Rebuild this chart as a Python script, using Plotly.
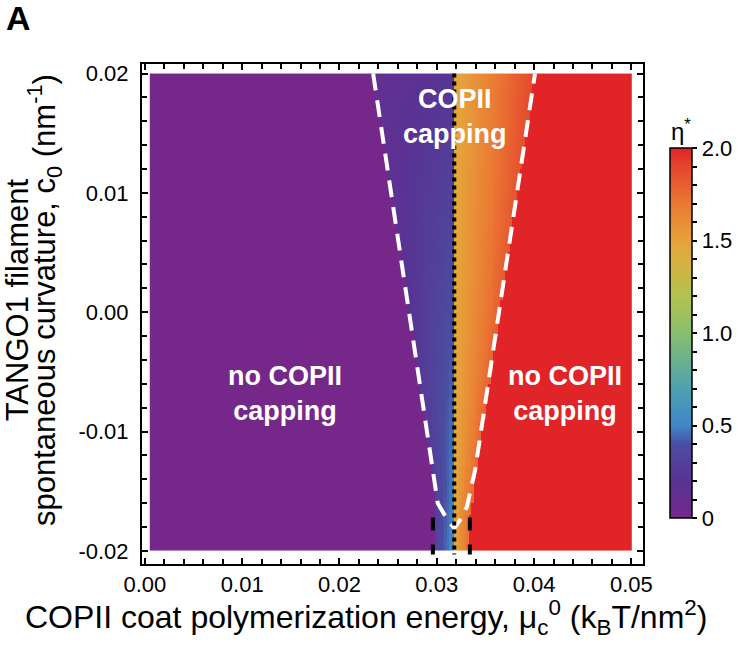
import numpy as np
import plotly.graph_objects as go

# ---------------- data ----------------
# heatmap grid (cell edges)
mu_edges = np.round(np.arange(0.0005, 0.05001, 0.00025), 6)
c0_edges = np.round(np.arange(-0.02, 0.02001, 0.001), 6)

# boundaries of the COPII-capping region (mu at given c0)
bound_c0 = [-0.02, -0.0172, -0.0147, 0.02]
bound_left_mu = [0.0298, 0.0298, 0.0298, 0.02346]
bound_right_mu = [0.0333, 0.0333, 0.03378, 0.0401]

# critical mu (black dotted line)
mu_crit = 0.0318

# eta* values read at the edges of the region
eta_c0 = [-0.02, 0.0, 0.02]
eta_left_edge = [0.30, 0.20, 0.14]
eta_left_crit = [0.56, 0.40, 0.22]
eta_right_crit = [1.47, 1.47, 1.47]
eta_right_edge = [1.74, 1.80, 1.90]
eta_below = 0.0
eta_above = 2.0

# white dashed boundary curve
wb_mu = [0.02346, 0.02953, 0.0301, 0.0311, 0.0318, 0.0324, 0.0331, 0.03395, 0.0401]
wb_c0 = [0.02, -0.0132, -0.0160, -0.0174, -0.0181, -0.0174, -0.0163, -0.0132, 0.02]

# black dashed bottom segments
bd_mu = [0.0296, 0.0334]
bd_c0 = [-0.0172, -0.0203]

x_ticks = [0.0, 0.01, 0.02, 0.03, 0.04, 0.05]
x_ticktext = ["0.00", "0.01", "0.02", "0.03", "0.04", "0.05"]
y_ticks = [-0.02, -0.01, 0.0, 0.01, 0.02]
y_ticktext = ["-0.02", "-0.01", "0.00", "0.01", "0.02"]
cb_ticks = [round(0.1 * i, 1) for i in range(21)]
cb_labels = {0.0: "0", 0.5: "0.5", 1.0: "1.0", 1.5: "1.5", 2.0: "2.0"}

# ---------------- build heatmap table ----------------
mu_c = (mu_edges[:-1] + mu_edges[1:]) / 2
c_c = (c0_edges[:-1] + c0_edges[1:]) / 2
z = np.zeros((len(c_c), len(mu_c)))
for i, c in enumerate(c_c):
    L = np.interp(c, bound_c0, bound_left_mu)
    R = np.interp(c, bound_c0, bound_right_mu)
    le = np.interp(c, eta_c0, eta_left_edge)
    lc = np.interp(c, eta_c0, eta_left_crit)
    rc = np.interp(c, eta_c0, eta_right_crit)
    re = np.interp(c, eta_c0, eta_right_edge)
    for j, m in enumerate(mu_c):
        if m < L:
            z[i, j] = eta_below
        elif m < mu_crit:
            z[i, j] = le + (lc - le) * (m - L) / max(mu_crit - L, 1e-9)
        elif m < R:
            z[i, j] = rc + (re - rc) * (m - mu_crit) / max(R - mu_crit, 1e-9)
        else:
            z[i, j] = eta_above

colorscale = [
    [0.0, "#76288A"],
    [0.1, "#593394"],
    [0.2, "#4A4EA2"],
    [0.25, "#3F87C8"],
    [0.35, "#4FA1B0"],
    [0.5, "#88BF6E"],
    [0.6, "#B3C24E"],
    [0.7, "#D8B040"],
    [0.75, "#E6A23A"],
    [0.85, "#EA7833"],
    [0.95, "#E4452D"],
    [1.0, "#E02428"],
]

FONT = "Liberation Sans, Arial, Helvetica, sans-serif"

FIG_W, FIG_H = 744, 651
# plot area in pixels: x 142..643, y 64..564
L_PX, R_PX, T_PX, B_PX = 142, 643, 64, 564
W_PX, H_PX = R_PX - L_PX, B_PX - T_PX


def px(xp):
    return (xp - L_PX) / W_PX


def py(yp):
    return (B_PX - yp) / H_PX


fig = go.Figure()
fig.add_trace(go.Heatmap(
    x=mu_edges, y=c0_edges, z=z, zmin=0, zmax=2,
    colorscale=colorscale, zsmooth=False,
    colorbar=dict(
        x=px(670), xanchor="left", xpad=0, ypad=0,
        y=py(333), yanchor="middle",
        thickness=22, thicknessmode="pixels",
        len=370, lenmode="pixels",
        outlinewidth=1.5, outlinecolor="black",
        tickmode="array", tickvals=cb_ticks,
        ticktext=[cb_labels.get(t, "") for t in cb_ticks],
        ticks="outside", ticklen=5, tickwidth=1.5, tickcolor="black",
        tickfont=dict(size=22, color="black", family=FONT),
    ),
    hoverinfo="skip",
))

fig.add_trace(go.Scatter(
    x=wb_mu, y=wb_c0, mode="lines",
    line=dict(color="white", width=4, dash="17px,10px"),
    showlegend=False, hoverinfo="skip",
))
fig.add_trace(go.Scatter(
    x=[mu_crit, mu_crit], y=[0.02, -0.0203], mode="lines",
    line=dict(color="black", width=4, dash="4px,4px"),
    showlegend=False, hoverinfo="skip",
))
for m in bd_mu:
    fig.add_trace(go.Scatter(
        x=[m, m], y=bd_c0, mode="lines",
        line=dict(color="black", width=4, dash="13px,14px"),
        showlegend=False, hoverinfo="skip",
    ))

ann_font = dict(family=FONT, size=27, color="white")
for xx, yy, tt in [(0.0319, 0.0164, "<b>COPII</b><br><b>capping</b>"),
                   (0.0144, -0.0068, "<b>no COPII</b><br><b>capping</b>"),
                   (0.0432, -0.0068, "<b>no COPII</b><br><b>capping</b>")]:
    fig.add_annotation(x=xx, y=yy, text=tt, showarrow=False, font=ann_font,
                       xref="x", yref="y", xanchor="center", yanchor="middle")

fig.add_annotation(x=px(18), y=py(18), xref="paper", yref="paper", text="<b>A</b>",
                   showarrow=False, xanchor="center", yanchor="middle",
                   font=dict(family=FONT, size=34, color="black"))
fig.add_annotation(x=px(681), y=py(130), xref="paper", yref="paper",
                   text="η<sup>*</sup>", showarrow=False, xanchor="center", yanchor="middle",
                   font=dict(family=FONT, size=24, color="black"))

# axis titles
fig.add_annotation(x=px(366), y=py(617), xref="paper", yref="paper",
                   text="COPII coat polymerization energy, μ<sub>c</sub><sup>0</sup> (k<sub>B</sub>T/nm<sup>2</sup>)",
                   showarrow=False, font=dict(family=FONT, size=32, color="black"),
                   xanchor="center", yanchor="middle")
big = "<span style='font-size:31px'>%s</span>"
fig.add_annotation(x=px(33), y=py(300), xref="paper", yref="paper",
                   text=big % "TANGO1 filament" + "<br>" +
                   big % "spontaneous curvature, c<sub>0</sub> (nm<sup>-1</sup>)",
                   textangle=-90, showarrow=False,
                   font=dict(family=FONT, size=21, color="black"),
                   xanchor="center", yanchor="middle")

axis_common = dict(
    showline=True, linewidth=2, linecolor="black", mirror="allticks",
    ticks="inside", ticklen=6, tickwidth=1.5, tickcolor="black",
    showgrid=False, zeroline=False,
    tickfont=dict(size=22, color="black", family=FONT),
)
fig.update_xaxes(
    range=[-0.0003, 0.0512], tickmode="array", tickvals=x_ticks, ticktext=x_ticktext,
    minor=dict(dtick=0.002, tick0=0, ticks="inside", ticklen=5, tickwidth=1.5, tickcolor="black"),
    ticklabelstandoff=0,
    **axis_common,
)
fig.update_yaxes(
    range=[-0.0211, 0.0208], tickmode="array", tickvals=y_ticks, ticktext=y_ticktext,
    minor=dict(dtick=0.002, tick0=0, ticks="inside", ticklen=5, tickwidth=1.5, tickcolor="black"),
    ticklabelstandoff=7,
    **axis_common,
)

fig.update_layout(
    width=FIG_W, height=FIG_H,
    margin=dict(l=L_PX, r=FIG_W - R_PX, t=T_PX, b=FIG_H - B_PX, autoexpand=False),
    paper_bgcolor="white", plot_bgcolor="white",
    showlegend=False,
    font=dict(family=FONT, color="black"),
)

# remove the browser's default 8px body margin so the figure fills the window
fig.write_html("out.html", config={"displayModeBar": False},
               post_script="document.body.style.margin='0px';document.body.style.overflow='hidden';")
